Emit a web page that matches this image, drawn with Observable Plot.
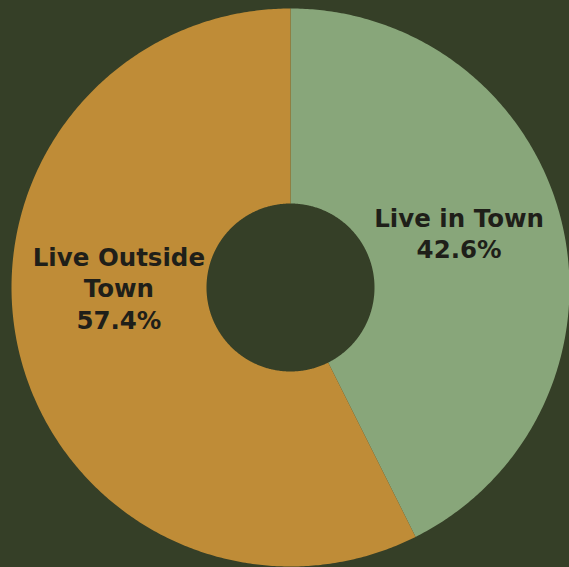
<!DOCTYPE html>
<html>
<head>
<meta charset="utf-8">
<script src="https://cdn.jsdelivr.net/npm/d3@7"></script>
<script src="https://cdn.jsdelivr.net/npm/@observablehq/plot@0.6"></script>
<style>
  html, body { margin: 0; padding: 0; background: #353f27; }
  #chart svg { display: block; }
</style>
</head>
<body>
<div id="chart"></div>
<script>
// ---- data ----
const categories = ["Live in Town", "Live Outside Town"];
const shares = [42.6, 57.4];
const labels = ["Live in Town\n42.6%", "Live Outside\nTown\n57.4%"];
const colors = ["#88a67a", "#bf8c37"];

// ---- geometry (unit = pixel, centre at 0,0) ----
const W = 569, H = 567;
const cx = 290, cy = 287;
const R = 279, r0 = 84;
const total = d3.sum(shares);
const slices = [];
let acc = 0;
categories.forEach((c, i) => {
  const a0 = acc / total * 2 * Math.PI;
  acc += shares[i];
  const a1 = acc / total * 2 * Math.PI;
  slices.push({category: c, a0, a1, label: labels[i]});
});

// polygon outline of each donut slice (outer arc, then inner arc back)
const outline = [];
for (const s of slices) {
  const n = Math.max(2, Math.ceil((s.a1 - s.a0) / (Math.PI / 360)));
  for (let k = 0; k <= n; k++) {
    const a = s.a0 + (s.a1 - s.a0) * k / n;
    outline.push({category: s.category, x: R * Math.sin(a), y: R * Math.cos(a)});
  }
  for (let k = n; k >= 0; k--) {
    const a = s.a0 + (s.a1 - s.a0) * k / n;
    outline.push({category: s.category, x: r0 * Math.sin(a), y: r0 * Math.cos(a)});
  }
}

// label anchor = slice centroid
const labelPts = slices.map(s => {
  const a = (s.a0 + s.a1) / 2, rm = (R + r0) / 2;
  return {category: s.category, label: s.label, x: rm * Math.sin(a), y: rm * Math.cos(a)};
});

const textStyle = {
  x: "x", y: "y", text: "label",
  fill: "#1f1f19",
  fontSize: 24.5, fontWeight: 700,
  fontFamily: "'DejaVu Sans', sans-serif",
  lineHeight: 1.28,
  textAnchor: "middle", lineAnchor: "middle"
};

const plot = Plot.plot({
  width: W, height: H,
  margin: 0,
  style: {background: "#353f27"},
  x: {domain: [-cx, W - cx], range: [0, W], axis: null},
  y: {domain: [-(H - cy), cy], range: [H, 0], axis: null},
  color: {domain: categories, range: colors},
  marks: [
    Plot.line(outline, {x: "x", y: "y", z: "category", fill: "category", stroke: null, curve: "linear-closed"}),
    Plot.text(labelPts.filter(d => d.category === categories[0]), {...textStyle, dx: -8, dy: -13}),
    Plot.text(labelPts.filter(d => d.category === categories[1]), {...textStyle, dx: 5, dy: -42})
  ]
});
document.getElementById("chart").appendChild(plot);
</script>
</body>
</html>
